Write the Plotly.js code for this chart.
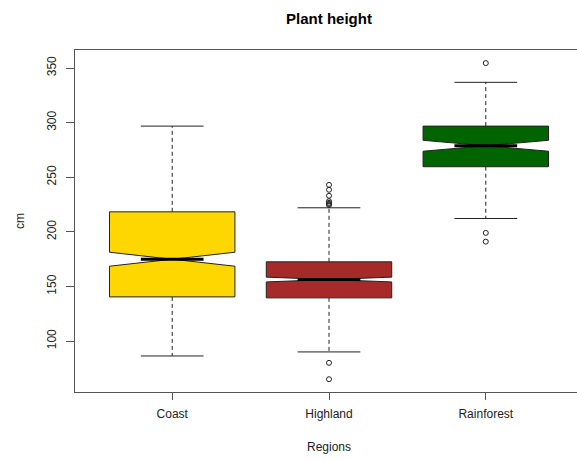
<!DOCTYPE html>
<html>
<head>
<meta charset="utf-8">
<script src="https://cdn.plot.ly/plotly-3.0.1.min.js"></script>
<style>
html,body{margin:0;padding:0;overflow:hidden;background:#fff;}
#chart{width:590px;height:461px;}
</style>
</head>
<body>
<div id="chart"></div>
<script>
// Data
var categories = ['Coast', 'Highland', 'Rainforest'];
var q1Values = [140.4, 139.5, 259.6];
var medianValues = [174.9, 156.3, 278.8];
var q3Values = [218.3, 172.5, 296.8];
var lowerWhisker = [86.3, 90.0, 212.2];
var upperWhisker = [296.8, 222.0, 336.9];
var notchSpans = [6.4, 2.2, 5.0];
var outlierCategory = ['Highland','Highland','Highland','Highland','Highland','Highland','Highland','Highland','Highland','Rainforest','Rainforest','Rainforest'];
var outlierValues = [243, 238.5, 233, 228, 226.5, 225.5, 224.5, 80, 65, 354.5, 199, 191];
var boxColors = ['#FFD700', '#A52A2A', '#006400'];

var boxWidth = 0.8;
var capHalf = boxWidth / 4;
var traces = [];

categories.forEach(function (cat, i) {
  var c = i + 1;
  traces.push({
    type: 'box',
    x: [c],
    q1: [q1Values[i]],
    median: [medianValues[i]],
    q3: [q3Values[i]],
    lowerfence: [q1Values[i]],
    upperfence: [q3Values[i]],
    notchspan: [notchSpans[i]],
    notched: true,
    notchwidth: 0.5,
    width: boxWidth,
    whiskerwidth: 0,
    fillcolor: boxColors[i],
    line: {color: '#222', width: 1},
    boxpoints: false,
    hoverinfo: 'skip',
    showlegend: false
  });
  // dashed whisker stems
  traces.push({
    type: 'scatter', mode: 'lines',
    x: [c, c, null, c, c],
    y: [q3Values[i], upperWhisker[i], null, q1Values[i], lowerWhisker[i]],
    line: {color: '#222', width: 1, dash: '4px,3px'},
    hoverinfo: 'skip', showlegend: false
  });
  // whisker caps
  traces.push({
    type: 'scatter', mode: 'lines',
    x: [c - capHalf, c + capHalf, null, c - capHalf, c + capHalf],
    y: [upperWhisker[i], upperWhisker[i], null, lowerWhisker[i], lowerWhisker[i]],
    line: {color: '#222', width: 1},
    hoverinfo: 'skip', showlegend: false
  });
  // thick median
  traces.push({
    type: 'scatter', mode: 'lines',
    x: [c - capHalf, c + capHalf],
    y: [medianValues[i], medianValues[i]],
    line: {color: '#000', width: 3},
    hoverinfo: 'skip', showlegend: false
  });
});

traces.push({
  type: 'scatter', mode: 'markers',
  x: outlierCategory.map(function (k) { return categories.indexOf(k) + 1; }),
  y: outlierValues,
  marker: {symbol: 'circle-open', size: 5, color: '#222', line: {width: 1}},
  hoverinfo: 'skip', showlegend: false
});

var layout = {
  width: 590, height: 461,
  margin: {l: 75, r: 7, t: 50, b: 69},
  paper_bgcolor: '#fff', plot_bgcolor: '#fff',
  font: {family: 'Liberation Sans, Arial, sans-serif', size: 12, color: '#222'},
  title: {
    text: '<b>Plant height</b>',
    font: {size: 15, color: '#000'},
    x: 0.5, xref: 'paper', xanchor: 'center',
    y: 1 - 19 / 461, yref: 'container', yanchor: 'middle'
  },
  xaxis: {
    range: [0.38, 3.62],
    tickvals: [1, 2, 3],
    ticktext: categories,
    ticks: 'outside', ticklen: 7, tickcolor: '#555', tickwidth: 1,
    ticklabelstandoff: 4,
    showline: true, mirror: true, linecolor: '#555', linewidth: 1,
    showgrid: false, zeroline: false,
    tickfont: {size: 12, color: '#222'},
    title: {text: 'Regions', font: {size: 12, color: '#222'}, standoff: 22}
  },
  yaxis: {
    range: [53.3, 366.5],
    tickvals: [100, 150, 200, 250, 300, 350],
    tickangle: -90,
    ticks: 'outside', ticklen: 8, tickcolor: '#555', tickwidth: 1,
    ticklabelstandoff: 5,
    showline: true, mirror: true, linecolor: '#555', linewidth: 1,
    showgrid: false, zeroline: false,
    tickfont: {size: 12, color: '#222'},
    title: {text: 'cm', font: {size: 12, color: '#222'}, standoff: 18}
  }
};

Plotly.newPlot('chart', traces, layout, {displayModeBar: false, staticPlot: true});
</script>
</body>
</html>
